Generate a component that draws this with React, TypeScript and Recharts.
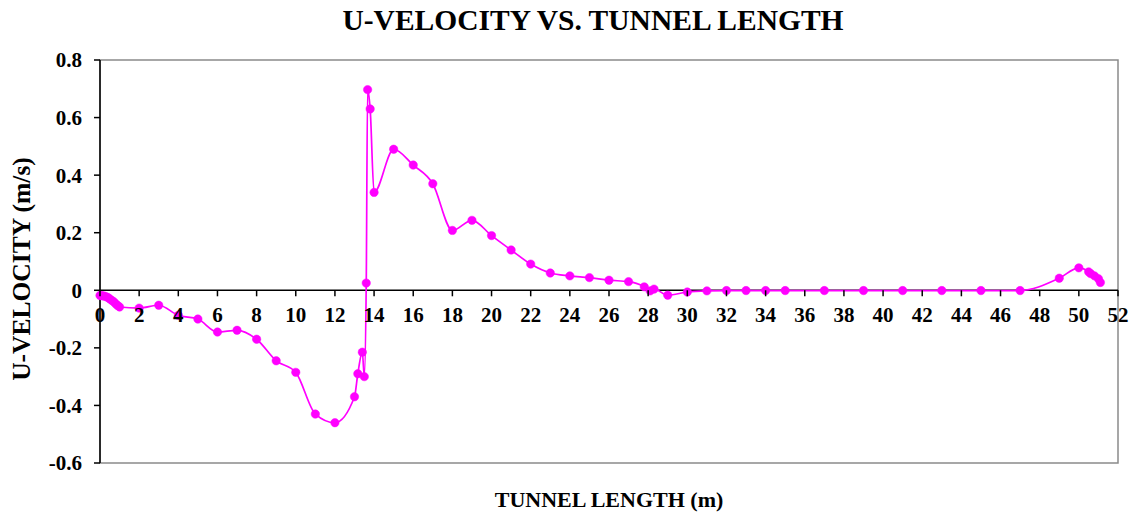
import React from "react";
import {
  LineChart,
  Line,
  XAxis,
  YAxis,
  ReferenceLine,
  ReferenceArea,
} from "recharts";

const tunnelLength = [
  0, 0.1, 0.2, 0.3, 0.4, 0.5, 0.6, 0.7, 0.8, 0.9, 1.0, 2, 3, 4, 5, 6, 7, 8, 9, 10, 11, 12, 13,
  13.17, 13.4, 13.5, 13.6, 13.67, 13.8, 14, 15, 16, 17, 18, 19, 20, 21, 22, 23, 24, 25, 26, 27,
  27.8, 28.1, 28.3, 29, 30, 31, 32, 33, 34, 35, 37, 39, 41, 43, 45, 47, 49, 50, 50.5, 50.6,
  50.8, 51, 51.1,
];

const uVelocity = [
  -0.018, -0.019, -0.02, -0.022, -0.025, -0.03, -0.035, -0.04, -0.047, -0.053, -0.058, -0.062,
  -0.052, -0.087, -0.1, -0.145, -0.139, -0.17, -0.245, -0.285, -0.43, -0.46, -0.37, -0.29,
  -0.215, -0.3, 0.025, 0.697, 0.63, 0.34, 0.49, 0.435, 0.37, 0.208, 0.243, 0.19, 0.14, 0.091,
  0.06, 0.05, 0.044, 0.035, 0.03, 0.012, -0.002, 0.004, -0.017, -0.006, -0.002, -0.001, -0.001,
  -0.001, -0.001, -0.001, -0.001, -0.001, -0.001, -0.001, -0.001, 0.042, 0.078, 0.064, 0.058,
  0.05, 0.04, 0.027,
];

const xTicks = [0, 2, 4, 6, 8, 10, 12, 14, 16, 18, 20, 22, 24, 26, 28, 30, 32, 34, 36, 38, 40, 42, 44, 46, 48, 50, 52];
const yTicks = [-0.6, -0.4, -0.2, 0, 0.2, 0.4, 0.6, 0.8];

const titleText = "U-VELOCITY VS. TUNNEL LENGTH";
const xTitle = "TUNNEL LENGTH (m)";
const yTitle = "U-VELOCITY (m/s)";

const data = tunnelLength.map((x, i) => ({ x, u: uVelocity[i] }));

const W = 1130;
const H = 514;
const X_AXIS_H = 30;
const MARGIN = { top: 60, right: 12, bottom: 51 - X_AXIS_H, left: 30 };
const Y_AXIS_W = 70;
const Y_MIN = -0.6;
const Y_MAX = 0.8;
const PLOT_H = H - MARGIN.top - MARGIN.bottom - X_AXIS_H;
const ZERO_Y = MARGIN.top + ((Y_MAX - 0) / (Y_MAX - Y_MIN)) * PLOT_H;

const FONT = "'Liberation Serif', 'Times New Roman', serif";

const renderXTick = (props: any) => {
  const { x, payload } = props;
  return (
    <g key={`xt-${payload.value}`}>
      <line x1={x} x2={x} y1={ZERO_Y} y2={ZERO_Y + 6} stroke="#000" strokeWidth={1.5} />
      <text
        x={x}
        y={ZERO_Y + 32}
        textAnchor="middle"
        fontFamily={FONT}
        fontWeight="bold"
        fontSize={21}
        fill="#000"
      >
        {payload.value}
      </text>
    </g>
  );
};

export default function App() {
  return (
    <div style={{ position: "absolute", left: 0, top: 0, width: W, height: H, background: "#fff", overflow: "hidden" }}>
      <div
        style={{
          position: "absolute",
          left: 593,
          top: 6,
          transform: "translateX(-50%)",
          whiteSpace: "nowrap",
          fontFamily: FONT,
          fontWeight: "bold",
          fontSize: 29.5,
          lineHeight: 1,
          color: "#000",
        }}
      >
        {titleText}
      </div>
      <div
        style={{
          position: "absolute",
          left: 22,
          top: 269,
          transform: "translate(-50%, -50%) rotate(-90deg)",
          whiteSpace: "nowrap",
          fontFamily: FONT,
          fontWeight: "bold",
          fontSize: 25.5,
          lineHeight: 1,
          color: "#000",
        }}
      >
        {yTitle}
      </div>
      <div
        style={{
          position: "absolute",
          left: 609,
          top: 489,
          transform: "translateX(-50%)",
          whiteSpace: "nowrap",
          fontFamily: FONT,
          fontWeight: "bold",
          fontSize: 22,
          lineHeight: 1,
          color: "#000",
        }}
      >
        {xTitle}
      </div>
      <LineChart width={W} height={H} data={data} margin={MARGIN}>
        <ReferenceArea
          x1={0}
          x2={52}
          y1={Y_MIN}
          y2={Y_MAX}
          fill="none"
          stroke="#8a8a8a"
          strokeWidth={1.5}
          fillOpacity={0}
        />
        <XAxis
          dataKey="x"
          type="number"
          domain={[0, 52]}
          ticks={xTicks}
          interval={0}
          axisLine={false}
          tickLine={false}
          height={X_AXIS_H}
          tick={renderXTick}
        />
        <YAxis
          type="number"
          domain={[Y_MIN, Y_MAX]}
          ticks={yTicks}
          interval={0}
          width={Y_AXIS_W}
          axisLine={{ stroke: "#000", strokeWidth: 1.5 }}
          tickLine={{ stroke: "#000", strokeWidth: 1.5 }}
          tickSize={6}
          tickMargin={12}
          tick={{ fontFamily: FONT, fontWeight: "bold", fontSize: 21, fill: "#000" }}
        />
        <ReferenceLine y={0} stroke="#000" strokeWidth={1.5} />
        <Line
          type="monotone"
          dataKey="u"
          stroke="#ff00ff"
          strokeWidth={1.7}
          dot={{ r: 4.2, fill: "#ff00ff", stroke: "#ff00ff", strokeWidth: 0.5 }}
          activeDot={false}
          isAnimationActive={false}
        />
      </LineChart>
    </div>
  );
}
